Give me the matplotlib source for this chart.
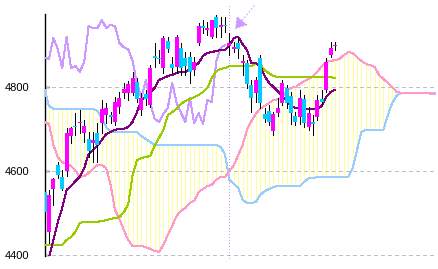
import numpy as np
import matplotlib
matplotlib.use('Agg')
import matplotlib.pyplot as plt

# daily candles (open, high, low, close)
opens = [4550, 4455, 4557, 4614, 4586, 4600, 4683, 4707, 4714, 4690,
         4676, 4667, 4690, 4714, 4733, 4733, 4717, 4752, 4786, 4786,
         4786, 4812, 4745, 4783, 4757, 4874, 4869, 4845, 4910, 4855,
         4848, 4893, 4869, 4871, 4840, 4905, 4945, 4936, 4919, 4967,
         4943, 4948, 4898, 4890, 4905, 4857, 4857, 4805, 4786, 4869,
         4736, 4743, 4695, 4738, 4762, 4798, 4779, 4731, 4729, 4771,
         4705, 4717, 4729, 4771, 4793, 4876, 4898]
highs = [4557, 4555, 4583, 4621, 4602, 4702, 4705, 4738, 4745, 4721,
         4693, 4693, 4714, 4769, 4762, 4740, 4776, 4788, 4810, 4814,
         4836, 4821, 4786, 4793, 4852, 4905, 4888, 4921, 4919, 4871,
         4924, 4905, 4883, 4883, 4871, 4952, 4960, 4955, 4960, 4971,
         4967, 4967, 4929, 4907, 4917, 4876, 4864, 4817, 4824, 4876,
         4750, 4757, 4740, 4774, 4817, 4805, 4788, 4740, 4793, 4781,
         4752, 4733, 4781, 4793, 4869, 4907, 4907]
lows = [4497, 4429, 4519, 4583, 4555, 4588, 4667, 4686, 4690, 4669,
        4633, 4621, 4621, 4690, 4714, 4714, 4710, 4738, 4774, 4769,
        4781, 4764, 4733, 4757, 4752, 4848, 4857, 4833, 4883, 4833,
        4833, 4829, 4829, 4809, 4829, 4900, 4929, 4924, 4917, 4919,
        4919, 4931, 4876, 4883, 4869, 4829, 4797, 4740, 4764, 4750,
        4717, 4710, 4686, 4731, 4757, 4750, 4712, 4710, 4712, 4705,
        4698, 4686, 4721, 4757, 4788, 4871, 4888]
closes = [4502, 4543, 4581, 4590, 4557, 4690, 4702, 4705, 4717, 4707,
          4648, 4674, 4662, 4748, 4750, 4729, 4764, 4774, 4795, 4807,
          4821, 4771, 4774, 4771, 4845, 4869, 4867, 4917, 4890, 4845,
          4919, 4845, 4850, 4836, 4860, 4945, 4940, 4940, 4960, 4940,
          4948, 4945, 4905, 4895, 4890, 4862, 4807, 4774, 4817, 4762,
          4724, 4717, 4736, 4750, 4810, 4762, 4738, 4717, 4774, 4714,
          4738, 4712, 4769, 4764, 4860, 4893, 4900]

# conversion line / base line
tenkan = [4383, 4395, 4436, 4479, 4512, 4555, 4564, 4576, 4586, 4607,
          4640, 4650, 4660, 4674, 4688, 4693, 4698, 4700, 4700, 4705,
          4717, 4740, 4769, 4776, 4786, 4798, 4817, 4821, 4826, 4829,
          4833, 4836, 4836, 4843, 4850, 4857, 4874, 4881, 4883, 4886,
          4888, 4888, 4898, 4917, 4919, 4902, 4888, 4857, 4857, 4850,
          4826, 4810, 4800, 4790, 4779, 4767, 4755, 4750, 4748, 4748,
          4748, 4748, 4748, 4755, 4776, 4788, 4793]
kijun = [4424, 4424, 4424, 4424, 4424, 4436, 4443, 4455, 4476, 4479,
         4479, 4479, 4479, 4481, 4483, 4486, 4488, 4490, 4502, 4521,
         4590, 4626, 4631, 4633, 4636, 4660, 4679, 4698, 4733, 4740,
         4748, 4760, 4767, 4771, 4776, 4781, 4788, 4798, 4821, 4838,
         4843, 4845, 4850, 4850, 4850, 4850, 4850, 4850, 4855, 4855,
         4840, 4833, 4826, 4824, 4824, 4824, 4824, 4824, 4824, 4824,
         4824, 4824, 4824, 4824, 4824, 4824, 4821]

# leading spans (cloud), already shifted forward
span_a = [4717, 4712, 4662, 4633, 4621, 4617, 4612, 4602, 4586, 4588,
          4595, 4605, 4614, 4614, 4607, 4567, 4507, 4486, 4459, 4436,
          4421, 4421, 4421, 4419, 4414, 4410, 4407, 4424, 4448, 4469,
          4493, 4505, 4512, 4524, 4529, 4550, 4557, 4564, 4567, 4579,
          4586, 4586, 4600, 4614, 4638, 4662, 4698, 4719, 4736, 4748,
          4755, 4762, 4769, 4771, 4776, 4790, 4798, 4800, 4807, 4814,
          4819, 4826, 4836, 4850, 4860, 4862, 4864, 4867, 4876, 4883,
          4881, 4871, 4862, 4855, 4852, 4848, 4829, 4819, 4810, 4800,
          4788, 4786, 4786, 4786, 4786, 4786, 4786, 4786, 4783, 4783]
span_b = [4793, 4755, 4748, 4748, 4748, 4748, 4748, 4748, 4748, 4748,
          4748, 4748, 4743, 4726, 4705, 4693, 4693, 4693, 4693, 4693,
          4693, 4693, 4683, 4676, 4669, 4662, 4662, 4662, 4662, 4662,
          4662, 4662, 4662, 4662, 4662, 4662, 4662, 4662, 4662, 4662,
          4657, 4640, 4579, 4569, 4560, 4531, 4524, 4524, 4526, 4543,
          4552, 4557, 4562, 4564, 4564, 4564, 4564, 4564, 4564, 4574,
          4583, 4583, 4586, 4586, 4586, 4586, 4586, 4586, 4586, 4586,
          4607, 4650, 4693, 4698, 4698, 4698, 4698, 4698, 4733, 4762,
          4779, 4786, 4786, 4786, 4786, 4786, 4786, 4786, 4786, 4786]

lag = 25
ticks = [4400, 4600, 4800]

opens = np.array(opens)
closes = np.array(closes)
x = np.arange(len(closes))
xc = np.arange(len(span_a))
px = 0.72  # one pixel at 100 dpi

fig = plt.figure(figsize=(4.38, 2.69), dpi=100)
ax = fig.add_axes([45 / 438, 13 / 269, 391 / 438, 242 / 269])

# cloud hatching
ax.vlines(xc, span_a, span_b, color='#ffff99', lw=px, antialiased=False, zorder=1)
ax.plot(xc, span_b, color='#99ccff', lw=px, antialiased=False, zorder=3)
ax.plot(xc, span_a, color='#ff99cc', lw=px, antialiased=False, zorder=3)

for t in ticks:
    ax.axhline(t, color='#c0c0c0', lw=px, ls=(0, (4, 3)), antialiased=False, zorder=2)

# lagging span
ax.plot(x[:-lag], closes[lag:], color='#cc99ff', lw=px, antialiased=False, zorder=3)
ax.plot([41.9, 41.9], [4393, 4995], color='#cc99ff', lw=px,
        ls=(0, (1, 2.5)), antialiased=False, clip_on=False, zorder=3)
ax.annotate('', xy=(43.3, 4938), xytext=(47.6, 4993),
            arrowprops=dict(arrowstyle='-|>,head_length=0.7,head_width=0.45',
                            color='#cc99ff', lw=px, ls=(0, (1, 2.5)),
                            shrinkA=0, shrinkB=0),
            annotation_clip=False, zorder=3)

ax.plot(x, kijun, color='#99cc00', lw=px, antialiased=False, zorder=4)
ax.plot(x, tenkan, color='#800080', lw=px, antialiased=False, zorder=4)

# candles
up = closes >= opens
cols = np.where(up, '#ff00ff', '#00ccff')
body = np.maximum(np.abs(closes - opens), 2.4)
ax.vlines(x, lows, highs, color='black', lw=px, antialiased=False, zorder=5)
ax.bar(x, body, bottom=np.minimum(opens, closes), width=0.9, color=cols,
       linewidth=0, antialiased=False, zorder=6)

ax.set_xlim(0.09, 88.95)
ax.set_ylim(4397.6, 4973.8)
ax.set_yticks(ticks)
ax.set_xticks([])
ax.tick_params(axis='y', direction='in', length=3, width=1, pad=11,
               labelsize=8, colors='black')
for lab in ax.get_yticklabels():
    lab.set_fontfamily('Liberation Sans')
for s in ['top', 'right', 'bottom']:
    ax.spines[s].set_visible(False)
ax.spines['left'].set_linewidth(1)

fig.savefig('out.png', dpi=100)
